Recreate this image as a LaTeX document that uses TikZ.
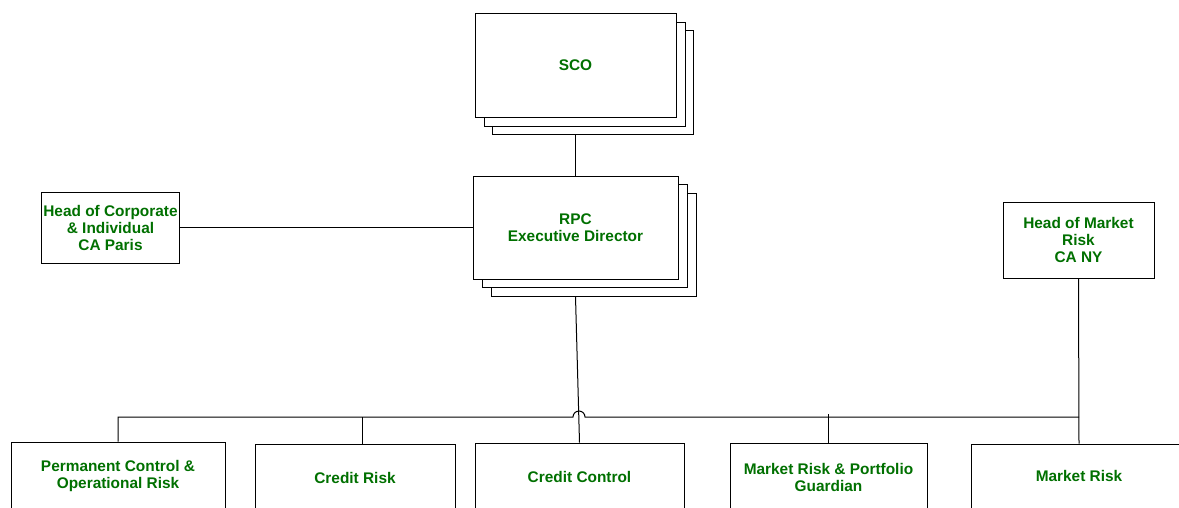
\documentclass[tikz,border=0pt]{standalone}
\usepackage{fontspec}
\setmainfont{Liberation Sans}
\usepackage{tikz}
\definecolor{orggreen}{RGB}{0,112,0}

\begin{document}
\begin{tikzpicture}[x=1pt,y=1pt,
	unit/.style={draw, rectangle, fill=white, line width=1pt, inner sep=2pt, align=center,
		text=orggreen, font=\fontsize{15.4}{17}\selectfont\bfseries},
	link/.style={line width=1pt}]
			\begingroup
			\useasboundingbox (0,0) rectangle (1179,-507);
			
			% top stacks
			\node[unit, minimum width=201, minimum height=104] (sco3) at (592.5,-82) {};
			\node[unit, minimum width=201, minimum height=104] (sco2) at (584.5,-74) {};
			\node[unit, minimum width=201, minimum height=104] (sco) at (575.5,-65) {SCO};
			\node[unit, minimum width=205, minimum height=103] (rpc3) at (593.5,-244.5) {};
			\node[unit, minimum width=205, minimum height=103] (rpc2) at (584.5,-236) {};
			\node[unit, minimum width=205, minimum height=103] (rpc) at (575.5,-227.5) {RPC\\Executive Director};
			
			\node[unit, minimum width=137, minimum height=71] (hci) at (110.5,-227.5) {Head of Corporate\\\& Individual\\CA Paris};
			\node[unit, minimum width=151, minimum height=76] (hmr) at (1078.5,-240) {Head of Market\\Risk\\CA NY};
			
			% bottom row
			\node[unit, minimum width=214, minimum height=68] (perm) at (118,-476) {Permanent Control \&\\Operational Risk};
			\node[unit, minimum width=200, minimum height=68] (crisk) at (355,-478) {Credit Risk};
			\node[unit, minimum width=209, minimum height=68] (cctrl) at (579.5,-477) {Credit Control};
			\node[unit, minimum width=197, minimum height=68] (mrpg) at (828.5,-477) {Market Risk \& Portfolio\\Guardian};
			\node[unit, minimum width=216, minimum height=64] (mrisk) at (1079,-476) {Market Risk};
			
			\coordinate (hopl) at (573,-417);
			\coordinate (crtop) at ([xshift=7pt]crisk.north);
			
			\draw[link] (sco.south |- sco3.south) to (rpc.north);
			\draw[link] (hci.east) to (rpc.west);
			\draw[link] (rpc.south |- rpc3.south) to (cctrl.north);
			\draw[link] (perm.north) |- (hopl) arc[start angle=180, end angle=0, radius=6pt] -- (mrisk.north |- hopl);
			\draw[link] (crtop) to (crtop |- hopl);
			\draw[link] (mrpg.north) to ++(0,29);
			\draw[link] (hmr.south) to (mrisk.north);
			\endgroup
			\end{tikzpicture}
\end{document}
